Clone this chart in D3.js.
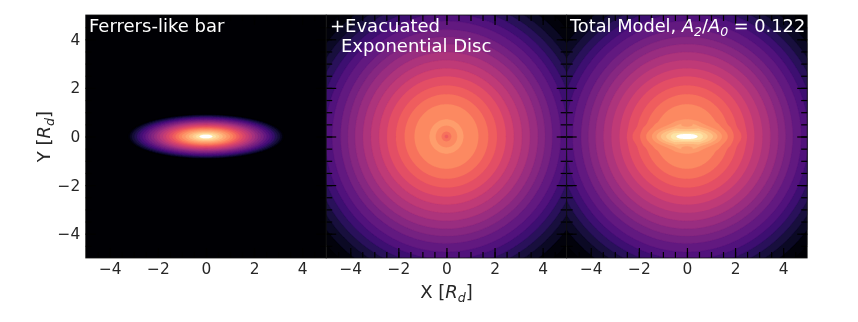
<!DOCTYPE html>
<html>
<head>
<meta charset="utf-8">
<script src="https://cdn.jsdelivr.net/npm/d3@7"></script>
<style>
  html, body { margin: 0; background: #fff; }
  svg { display: block; filter: blur(0.35px); font-family: "DejaVu Sans"; }
</style>
</head>
<body>
<div class="graph"></div>
<script>
var width = 858,
    height = 322;

// Contour levels of each panel, as fractions of the colour map
var barLevels = [0, 0.04, 0.08, 0.12, 0.16, 0.2, 0.24, 0.28, 0.32, 0.36, 0.4, 0.44, 0.48, 0.52, 0.56, 0.6, 0.64, 0.68, 0.72, 0.76, 0.8, 0.84, 0.88, 0.92, 0.96];
var discLevels = [0, 0.045, 0.09, 0.136, 0.18, 0.227, 0.273, 0.318, 0.364, 0.409, 0.455, 0.5, 0.545, 0.591, 0.636, 0.682, 0.727, 0.773];
var totalLevels = [0, 0.045, 0.09, 0.136, 0.18, 0.227, 0.273, 0.318, 0.364, 0.409, 0.455, 0.5, 0.545, 0.591, 0.636, 0.682, 0.727, 0.773, 0.81, 0.85, 0.89, 0.93, 0.965];

// Radial tables
var discRadius = [0, 0.08, 0.2, 0.45, 0.57, 0.7, 1.33, 1.74, 2.1, 2.47, 2.8, 3.14, 3.47, 3.8, 4.1, 4.4, 4.75, 5.05, 5.35, 5.65, 5.95, 6.3, 6.7, 7.2];
var discLevel = [0.66, 0.682, 0.727, 0.773, 0.8, 0.773, 0.727, 0.682, 0.636, 0.591, 0.545, 0.5, 0.455, 0.409, 0.364, 0.318, 0.273, 0.227, 0.18, 0.136, 0.09, 0.045, 0, -0.06];

// Bar profile along the ellipse radius (1 = edge of the bar)
var barRadius = [0, 0.05, 0.1, 0.16, 0.25, 0.32, 0.4, 0.5, 0.63, 0.75, 0.85, 0.95, 1, 1.02, 3];
var barLevel = [1.01, 0.98, 0.95, 0.89, 0.81, 0.75, 0.67, 0.57, 0.44, 0.31, 0.2, 0.08, 0, -0.1, -0.1];

// Same bar on the colour scale of the total panel
var barTotalRadius = [0, 0.126, 0.213, 0.277, 0.339, 0.397, 0.461, 0.529, 0.606, 0.698, 0.97, 3];
var barTotalLevel = [1.01, 0.945, 0.883, 0.83, 0.78, 0.712, 0.647, 0.567, 0.48, 0.41, -0.5, -0.5];

var barMajor = 3.25,
    barMinor = 0.92;

var topColor = "#ffffff";

var xTicks = [-4, -2, 0, 2, 4];
var minorTicks = d3.range(-4.5, 5, 0.5);

var panelNames = ["bar", "disc", "total"];
var panelLevels = [barLevels, discLevels, totalLevels];
var panelLeft = [85.7, 326.2, 566.7];
var panelWidth = 240.5;
var panelTop = 15,
    panelBottom = 258;

var gridSize = 300;

var discAt = d3.scaleLinear().domain(discRadius).range(discLevel);
var barAt = d3.scaleLinear().domain(barRadius).range(barLevel);
var barTotalAt = d3.scaleLinear().domain(barTotalRadius).range(barTotalLevel);

// log density per unit of colour fraction, used to add bar and disc
var logScale = 8.3;

var gridX = d3.scaleLinear().domain([0, gridSize - 1]).range([-5.05, 5.05]);
var gridY = d3.scaleLinear().domain([0, gridSize - 1]).range([5.05, -5.05]);

function field(name) {
  var values = new Array(gridSize * gridSize);
  for (var j = 0; j < gridSize; j++) {
    for (var i = 0; i < gridSize; i++) {
      var x = gridX(i), y = gridY(j);
      var r = Math.hypot(x, y);
      var m = Math.hypot(x / barMajor, y / barMinor);
      var v;
      if (name == "bar") v = barAt(m);
      else if (name == "disc") v = discAt(r);
      else v = Math.log(Math.exp(logScale * discAt(r)) + Math.exp(logScale * barTotalAt(m))) / logScale;
      values[j * gridSize + i] = v;
    }
  }
  return values;
}

var svg = d3.select(".graph").append("svg")
    .attr("width", width)
    .attr("height", height);

var defs = svg.append("defs");

panelNames.forEach(function(name, k) {
  var left = panelLeft[k];
  var levels = panelLevels[k];
  var x = d3.scaleLinear().domain([-5, 5]).range([left, left + panelWidth]);
  var y = d3.scaleLinear().domain([-5, 5]).range([panelBottom, panelTop]);

  function bandColor(d, i) {
    if (d.value >= 0.96) return topColor;
    var next = i + 1 < levels.length ? levels[i + 1] : d.value + 0.04;
    return d3.interpolateMagma((d.value + next) / 2);
  }

  defs.append("clipPath").attr("id", "clip-" + name)
    .append("rect")
      .attr("x", left)
      .attr("y", panelTop)
      .attr("width", panelWidth)
      .attr("height", panelBottom - panelTop);

  var g = svg.append("g").attr("class", "panel-" + name);

  var plot = g.append("g").attr("clip-path", "url(#clip-" + name + ")");

  plot.append("rect")
      .attr("x", left)
      .attr("y", panelTop)
      .attr("width", panelWidth)
      .attr("height", panelBottom - panelTop)
      .attr("fill", d3.interpolateMagma(0));

  var contours = d3.contours().size([gridSize, gridSize]).thresholds(levels)(field(name));

  var path = d3.geoPath(d3.geoTransform({
    point: function(px, py) {
      this.stream.point(x(gridX(px - 0.5)), y(gridY(py - 0.5)));
    }
  }));

  plot.selectAll("path")
    .data(contours)
    .enter().append("path")
      .attr("d", path)
      .attr("fill", bandColor)
      .attr("stroke", bandColor)
      .attr("stroke-width", 0.2);

  // inward ticks on all four sides
  var sides = [
    [d3.axisBottom(x), "translate(0," + panelBottom + ")"],
    [d3.axisTop(x), "translate(0," + panelTop + ")"],
    [d3.axisLeft(y), "translate(" + left + ",0)"],
    [d3.axisRight(y), "translate(" + (left + panelWidth) + ",0)"]
  ];
  sides.forEach(function(side, s) {
    g.append("g")
        .attr("transform", side[1])
        .call(side[0].tickValues(minorTicks).tickSize(-6).tickFormat(""))
        .call(function(a) { a.selectAll("text").remove(); a.select(".domain").remove(); });
    var major = g.append("g")
        .attr("transform", side[1])
        .call(side[0].tickValues(xTicks).tickSize(-10).tickPadding(5)
          .tickFormat(d3.format("d")));
    major.select(".domain").remove();
    major.selectAll("text")
        .attr("font-size", 15.4)
        .attr("font-family", "DejaVu Sans")
        .attr("fill", "#262626");
    var showLabels = s == 0 || (s == 2 && k == 0);
    if (!showLabels) major.selectAll("text").remove();
    if (s == 2) major.selectAll("text").attr("x", -5.5);
  });

  g.append("rect")
      .attr("x", left)
      .attr("y", panelTop)
      .attr("width", panelWidth)
      .attr("height", panelBottom - panelTop)
      .attr("fill", "none")
      .attr("stroke", "#111")
      .attr("stroke-width", 0.8);
});

svg.selectAll(".tick line").attr("stroke", "#000").attr("stroke-width", 1.2);

function addLabel(px, py, parts, rotate, anchor, size, color) {
  var t = svg.append("text")
      .attr("text-anchor", anchor)
      .attr("font-size", size)
      .attr("fill", color)
      .attr("transform", "translate(" + px + "," + py + ")" + (rotate ? " rotate(" + rotate + ")" : ""));
  parts.forEach(function(p) {
    var s = t.append("tspan").text(p[0]);
    if (p[1] == "i" || p[1] == "sub") s.attr("font-style", "italic");
    if (p[1] == "sub") s.attr("font-size", size * 0.7).attr("dy", size * 0.2);
    if (p[1] == "up") s.attr("dy", -size * 0.2);
  });
}

var titleColor = "#fff";
addLabel(89, 32, [["Ferrers-like bar"]], 0, "start", 18, titleColor);
addLabel(330, 32, [["+Evacuated"]], 0, "start", 18, titleColor);
addLabel(341, 52, [["Exponential Disc"]], 0, "start", 18, titleColor);
addLabel(570, 32, [["Total Model, "], ["A", "i"], ["2", "sub"], ["/", "up"], ["A", "i"], ["0", "sub"], [" = 0.122", "up"]], 0, "start", 17.8, titleColor);
addLabel(446.5, 298, [["X ["], ["R", "i"], ["d", "sub"], ["]", "up"]], 0, "middle", 18, "#262626");
addLabel(50, 136.5, [["Y ["], ["R", "i"], ["d", "sub"], ["]", "up"]], -90, "middle", 18, "#262626");
</script>
</body>
</html>
